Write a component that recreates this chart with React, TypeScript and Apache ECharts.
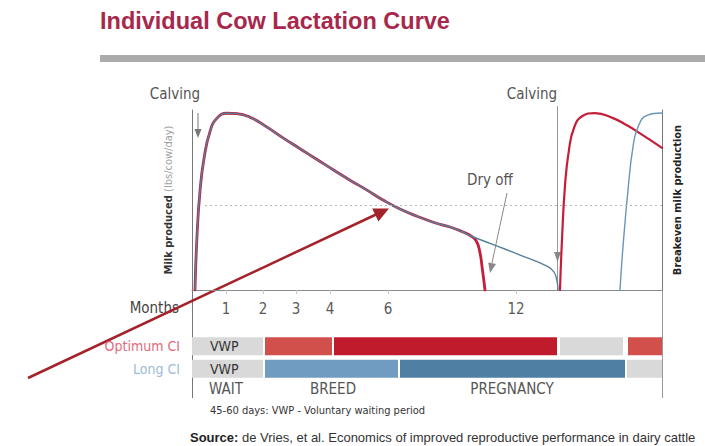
import { useEffect, useRef } from 'react';
import * as echarts from 'echarts';

// ---------- data ----------
const monthLabels = ['1', '2', '3', '4', '6', '12'];
const monthPositions = [34, 71, 104, 138, 196, 324];
const breakevenLevel = 47;

const optimumLactation1 = [
  [3, 0], [5, 30], [8, 55], [12, 73], [18, 88], [25, 95.5], [35, 98.2], [45, 98], [58, 96], [75, 90.5],
  [91, 84.5], [108, 78.5], [125, 72.5], [142, 66.5], [158, 61], [175, 55.5], [191, 50], [208, 45],
  [225, 41], [242, 37.5], [258, 35], [270, 32.5], [279, 30], [284, 27.5], [287.5, 22], [290.5, 11], [293, 0],
];
const longLactation1 = [
  [3, 0], [5, 30], [8, 55], [12, 73], [18, 88], [25, 95.5], [35, 98.2], [45, 98], [58, 96], [75, 90.5],
  [91, 84.5], [108, 78.5], [125, 72.5], [142, 66.5], [158, 61], [175, 55.5], [191, 50], [208, 45],
  [225, 41], [242, 37.5], [258, 35], [270, 32.5], [279, 30], [300, 25.5], [330, 19], [356, 13],
  [362, 10], [365, 5], [366, 0],
];
const optimumLactation2 = [
  [368, 0], [370, 28], [373, 58], [377, 78], [382, 90], [390, 96.5], [403, 98.3], [421, 95.5],
  [435, 91.5], [448, 87], [470, 79],
];
const longLactation2 = [
  [428, 0], [431, 24], [436, 55.5], [441, 79.5], [446, 90.5], [455, 97], [470, 98.3],
];

const cycleRows = ['Optimum CI', 'Long CI'];
const optimumSegments = [[0, 71], [73, 140], [142, 365], [368, 431], [436, 470]];
const optimumPhases = ['VWP', 'breed', 'pregnant', 'wait', 'breed'];
const longSegments = [[0, 71], [73, 206], [208, 433], [435, 470]];
const longPhases = ['VWP', 'breed', 'pregnant', 'wait'];

const phaseLabels = ['WAIT', 'BREED', 'PREGNANCY'];
const phaseLabelPositions = [34, 141, 320];

// ---------- styles ----------
const GRID_LEFT = 192;
const PLOT_W = 470;
const NARROW = '"Liberation Sans Narrow", "DejaVu Sans Condensed", "Roboto Condensed", sans-serif';
const SANS = '"Liberation Sans", Arial, sans-serif';
const RED = '#c41e3a';
const BLUE = '#55809c';
const rowColors: Record<string, Record<string, string>> = {
  'Optimum CI': { VWP: '#d9d9d9', wait: '#d9d9d9', breed: '#d1504b', pregnant: '#c01b2d' },
  'Long CI': { VWP: '#d9d9d9', wait: '#d9d9d9', breed: '#6f9cc0', pregnant: '#4f80a4' },
};

function txt(x: number, y: number, text: string, font: string, fill: string, align = 'left', extra: any = {}) {
  return {
    type: 'text',
    style: {
      x, y, text, font, fill,
      align, textAlign: align,
      verticalAlign: 'middle', textVerticalAlign: 'middle',
      ...extra,
    },
  };
}

export default function App() {
  const ref = useRef<HTMLDivElement>(null);

  useEffect(() => {
    if (!ref.current) return;
    const chart = echarts.init(ref.current, undefined, { renderer: 'svg' });

    const segData: any[] = [];
    const addRow = (segs: number[][], phases: string[], row: number) => {
      segs.forEach((s, i) => {
        segData.push({
          value: [s[0], s[1], row],
          phase: phases[i],
          itemStyle: { color: rowColors[cycleRows[row]][phases[i]] },
        });
      });
    };
    addRow(optimumSegments, optimumPhases, 0);
    addRow(longSegments, longPhases, 1);

    const lineSeries = (data: number[][], color: string, width: number, extra: any = {}) => ({
      type: 'line',
      xAxisIndex: 0,
      yAxisIndex: 0,
      data,
      showSymbol: false,
      smooth: 0.5,
      lineStyle: { color, width, cap: 'round', join: 'round' },
      silent: true,
      clip: true,
      ...extra,
    });

    const option: any = {
      animation: false,
      grid: [
        { left: GRID_LEFT, top: 110, width: PLOT_W, height: 180 },
        { left: GRID_LEFT, top: 335, width: PLOT_W, height: 45 },
      ],
      xAxis: [
        {
          type: 'value', gridIndex: 0, min: 0, max: PLOT_W,
          axisLine: { show: true, lineStyle: { color: '#8a8a8a', width: 1 } },
          axisTick: { show: true, customValues: monthPositions, length: 4, lineStyle: { color: '#c8c8c8' } },
          axisLabel: {
            show: true, customValues: monthPositions, margin: 11,
            formatter: (v: number) => monthLabels[monthPositions.indexOf(v)] ?? '',
            color: '#5a5a5a', fontSize: 15, fontFamily: NARROW,
          },
          splitLine: { show: false },
        },
        { type: 'value', gridIndex: 1, min: 0, max: PLOT_W, show: false },
      ],
      yAxis: [
        {
          type: 'value', gridIndex: 0, min: 0, max: 100,
          axisLine: { show: true, lineStyle: { color: '#777', width: 1 } },
          axisTick: { show: false }, axisLabel: { show: false }, splitLine: { show: false },
          name: '{b|Milk produced} {l|(lbs/cow/day)}',
          nameLocation: 'middle', nameRotate: 90, nameGap: 18,
          nameTextStyle: {
            rich: {
              b: { fontFamily: NARROW, fontWeight: 'bold', fontSize: 11, color: '#333' },
              l: { fontFamily: NARROW, fontSize: 11, color: '#a0a0a0' },
            },
          },
        },
        {
          type: 'value', gridIndex: 0, min: 0, max: 100, position: 'right',
          axisLine: { show: true, lineStyle: { color: '#777', width: 1 } },
          axisTick: { show: false }, axisLabel: { show: false }, splitLine: { show: false },
          name: 'Breakeven milk production',
          nameLocation: 'middle', nameRotate: 90, nameGap: 10,
          nameTextStyle: { fontFamily: NARROW, fontWeight: 'bold', fontSize: 11, color: '#222' },
        },
        {
          type: 'category', gridIndex: 1, data: cycleRows, inverse: true,
          axisLine: { show: false }, axisTick: { show: false }, splitLine: { show: false },
          axisLabel: {
            margin: 12,
            formatter: (v: string, i: number) => `{c${i}|${v}}`,
            rich: {
              c0: { color: '#e46b7d', fontSize: 14, fontFamily: NARROW },
              c1: { color: '#9dbcd6', fontSize: 14, fontFamily: NARROW },
            },
          },
        },
      ],
      series: [
        lineSeries(optimumLactation1, RED, 2.8),
        lineSeries(optimumLactation2, RED, 2.2),
        lineSeries(longLactation1, BLUE, 1.4, {
          markLine: {
            silent: true, symbol: 'none', label: { show: false },
            lineStyle: { type: [2, 3], color: '#b8b8b8', width: 1 },
            data: [[{ coord: [13, breakevenLevel] }, { coord: [PLOT_W, breakevenLevel] }]],
          },
        }),
        lineSeries(longLactation2, '#6b95b6', 1.4),
        {
          type: 'custom',
          xAxisIndex: 1,
          yAxisIndex: 2,
          silent: true,
          data: segData,
          renderItem: (params: any, api: any) => {
            const s = api.coord([api.value(0), api.value(2)]);
            const e = api.coord([api.value(1), api.value(2)]);
            const h = 18;
            const item = segData[params.dataIndex];
            const children: any[] = [
              {
                type: 'rect',
                shape: { x: s[0], y: s[1] - h / 2, width: e[0] - s[0], height: h },
                style: { fill: item.itemStyle.color },
              },
            ];
            if (item.phase === 'VWP') {
              children.push({
                type: 'text',
                style: {
                  x: s[0] + 18, y: s[1], text: 'VWP', font: `14px ${NARROW}`, fill: '#333',
                  verticalAlign: 'middle', textVerticalAlign: 'middle',
                },
              });
            }
            return { type: 'group', children };
          },
        },
      ],
      graphic: [
        txt(100, 21, 'Individual Cow Lactation Curve', `bold 23.5px ${SANS}`, '#a8284b'),
        { type: 'rect', shape: { x: 100, y: 55, width: 605, height: 7 }, style: { fill: '#ababab' } },
        // axis extensions
        { type: 'line', shape: { x1: GRID_LEFT + 0.5, y1: 290, x2: GRID_LEFT + 0.5, y2: 398 }, style: { stroke: '#777', lineWidth: 1 } },
        { type: 'line', shape: { x1: GRID_LEFT + PLOT_W + 0.5, y1: 290, x2: GRID_LEFT + PLOT_W + 0.5, y2: 398 }, style: { stroke: '#999', lineWidth: 1 } },
        txt(179, 308, 'Months', `15px ${NARROW}`, '#444', 'right'),
        // Calving 1
        txt(175, 94, 'Calving', `15px ${NARROW}`, '#555', 'center'),
        { type: 'line', shape: { x1: 198, y1: 113, x2: 198, y2: 130 }, style: { stroke: '#777', lineWidth: 1 } },
        { type: 'polygon', shape: { points: [[194.5, 129], [201.5, 129], [198, 138]] }, style: { fill: '#777' } },
        // Calving 2
        txt(532, 94, 'Calving', `15px ${NARROW}`, '#555', 'center'),
        { type: 'line', shape: { x1: 557.5, y1: 106, x2: 557.5, y2: 290 }, style: { stroke: '#999', lineWidth: 1 } },
        { type: 'polygon', shape: { points: [[554, 252], [561, 252], [557.5, 262]] }, style: { fill: '#888' } },
        // Dry off
        txt(490, 180, 'Dry off', `15px ${NARROW}`, '#555', 'center'),
        { type: 'bezierCurve', shape: { x1: 507, y1: 193, x2: 492, y2: 263, cpx1: 500, cpy1: 225 }, style: { stroke: '#888', lineWidth: 1, fill: 'none' } },
        { type: 'polygon', shape: { points: [[496, 264], [488.2, 262.4], [490, 273]] }, style: { fill: '#888' } },
        // big red arrow
        { type: 'line', shape: { x1: 28, y1: 378, x2: 376, y2: 214.5 }, style: { stroke: '#a4232a', lineWidth: 2.5 } },
        { type: 'polygon', shape: { points: [[378.4, 221.4], [372.2, 208.4], [389, 208.5]] }, style: { fill: '#a4232a' } },
        // phase labels
        ...phaseLabels.map((t, i) => txt(GRID_LEFT + phaseLabelPositions[i], 389, t, `15px ${NARROW}`, '#555', 'center')),
        txt(210, 410, '45-60 days: VWP - Voluntary waiting period', `11px ${NARROW}`, '#333'),
        {
          type: 'text',
          style: {
            x: 190, y: 437,
            text: '{b|Source:} de Vries, et al. Economics of improved reproductive performance in dairy cattle',
            font: `13px ${SANS}`, fill: '#333',
            verticalAlign: 'middle', textVerticalAlign: 'middle',
            rich: { b: { fontWeight: 'bold', fontSize: 13, fontFamily: SANS, fill: '#222', color: '#222' } },
          },
        },
      ],
    };

    chart.setOption(option);
    return () => chart.dispose();
  }, []);

  return <div ref={ref} style={{ position: 'fixed', left: 0, top: 0, width: 705, height: 446, background: '#fff' }} />;
}
